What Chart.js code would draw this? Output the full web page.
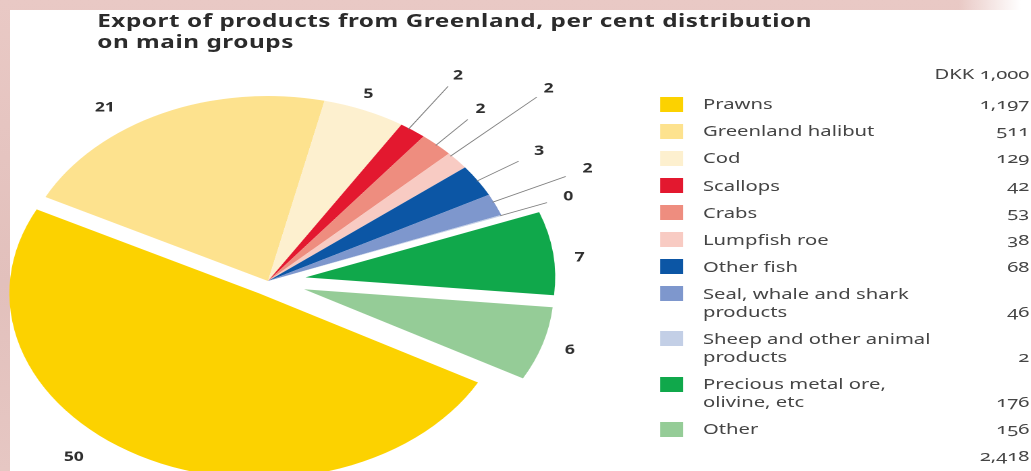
<!DOCTYPE html>
<html lang="en">
<head>
<meta charset="utf-8">
<title>Export of products from Greenland</title>
<script src="https://cdn.jsdelivr.net/npm/chart.js@4.4.1/dist/chart.umd.min.js"></script>
<style>
  html, body { margin: 0; padding: 0; }
  body {
    width: 1031px;
    height: 471px;
    overflow: hidden;
    position: relative;
    background:
      linear-gradient(to right, rgba(255,255,255,0) 93%, #fff 99%),
      linear-gradient(to bottom, #e9c9c5, #e2c0bc 60%, #e6c7c3);
  }
  #panel { position: absolute; left: 10px; top: 10px; right: 0; bottom: 0; background: #fff; }

  /* the figure is laid out narrow and widened as a whole */
  #figure {
    position: absolute; left: 0; top: 0;
    width: 764px; height: 471px;
    transform: scaleX(1.35);
    transform-origin: 0 0;
  }
  #title {
    position: absolute; left: 72px; top: 10px; margin: 0;
    font: bold 18px/21px "Noto Sans", sans-serif;
    letter-spacing: 0.4px;
    color: #2b2b2b;
    white-space: nowrap;
  }
  #pie { position: absolute; left: 0; top: 0; width: 480px; height: 471px; }

  #legend {
    position: absolute; left: 489px; top: 64px; width: 273.5px;
    font: 15px/18px "Noto Sans", sans-serif;
    color: #454545;
    font-feature-settings: "onum" 1;
  }
  #legend .head { text-align: right; margin-bottom: 12.3px; }
  .row { display: flex; margin-bottom: 9.1px; }
  .swatch { width: 17px; height: 15px; margin-top: 2.4px; flex: none; }
  .name { margin-left: 14.7px; flex: 1; white-space: pre-line; }
  .val { align-self: flex-end; text-align: right; }
</style>
</head>
<body>
<div id="panel"></div>
<div id="figure">
  <h1 id="title">Export of products from Greenland, per cent distribution<br>on main groups</h1>
  <div id="pie"><canvas id="pieCanvas"></canvas></div>
  <div id="legend"></div>
</div>

<script>
const categories = [
  "Prawns", "Greenland halibut", "Cod", "Scallops", "Crabs", "Lumpfish roe",
  "Other fish", "Seal, whale and shark\nproducts", "Sheep and other animal\nproducts",
  "Precious metal ore,\nolivine, etc", "Other"
];
const exportsDkk = [1197, 511, 129, 42, 53, 38, 68, 46, 2, 176, 156];
const unitLabel = "DKK 1,000";

const sliceColours = [
  "#fcd200", "#fde28e", "#fdf0cf", "#e3182f", "#ee8d7f", "#f8cbc3",
  "#0c56a5", "#7e97cd", "#c3cfe6", "#10a84b", "#95cc97"
];

// how far each slice is pulled out, and where its share label sits
const explode   = [14, 0, 0, 0, 0, 0, 0, 0, 0, 28, 28];
const labelTurn = [12, -10, -1, -1, 0, -2, 0, -1, 0, 2, 0];
const labelGap  = [29, 26, 16, 64, 48, 98, 54, 77, 53, 19, 21];
const leaderLen = [0, 0, 0, 51, 34, 86, 36, 59, 36, 0, 0];

const total = exportsDkk.reduce((a, b) => a + b, 0);
const shares = exportsDkk.map(v => Math.round(v / total * 100));

// arc that is shifted out whole, without growing its radius
class ExplodedArc extends Chart.ArcElement {
  draw(ctx) {
    const { x, y, startAngle, endAngle, outerRadius, options } = this;
    if (endAngle - startAngle <= 0) return;
    const mid = (startAngle + endAngle) / 2;
    const shift = options.offset || 0;
    ctx.save();
    ctx.translate(Math.cos(mid) * shift, Math.sin(mid) * shift);
    ctx.beginPath();
    ctx.moveTo(x, y);
    ctx.arc(x, y, outerRadius, startAngle, endAngle);
    ctx.closePath();
    ctx.fillStyle = options.backgroundColor;
    ctx.fill();
    ctx.restore();
  }
}
ExplodedArc.id = "explodedArc";
Chart.register(ExplodedArc);
Chart.defaults.datasets.pie.dataElementType = "explodedArc";

const sliceLabels = {
  id: "sliceLabels",
  afterDatasetsDraw(chart) {
    const ctx = chart.ctx;
    const arcs = chart.getDatasetMeta(0).data;
    ctx.save();
    ctx.font = 'bold 13px "Noto Sans", sans-serif';
    ctx.fillStyle = "#2e2e2e";
    ctx.textAlign = "center";
    ctx.textBaseline = "middle";
    ctx.strokeStyle = "#7d7d7d";
    ctx.lineWidth = 0.8;
    arcs.forEach((arc, i) => {
      const mid = (arc.startAngle + arc.endAngle) / 2;
      const cx = arc.x + Math.cos(mid) * explode[i];
      const cy = arc.y + Math.sin(mid) * explode[i];
      const a = mid + labelTurn[i] * Math.PI / 180;
      const r = arc.outerRadius;
      const dx = Math.cos(a), dy = Math.sin(a);
      if (leaderLen[i]) {
        ctx.beginPath();
        ctx.moveTo(cx + dx * (r - 1), cy + dy * (r - 1));
        ctx.lineTo(cx + dx * (r + leaderLen[i]), cy + dy * (r + leaderLen[i]));
        ctx.stroke();
      }
      ctx.fillText(String(shares[i]), cx + dx * (r + labelGap[i]), cy + dy * (r + labelGap[i]));
    });
    ctx.restore();
  }
};

new Chart(document.getElementById("pieCanvas"), {
  type: "pie",
  data: {
    labels: categories,
    datasets: [{
      data: exportsDkk,
      backgroundColor: sliceColours,
      offset: explode,
      borderWidth: 0,
      radius: 185,
      rotation: 118.8,
      clip: false
    }]
  },
  options: {
    responsive: true,
    maintainAspectRatio: false,
    animation: false,
    devicePixelRatio: 2,
    events: [],
    layout: { padding: { top: 91, right: 83 } },
    plugins: {
      legend: { display: false },
      tooltip: { enabled: false }
    }
  },
  plugins: [sliceLabels]
});

// legend table on the right
const legend = document.getElementById("legend");
const fmt = v => v.toLocaleString("en-US");

const head = document.createElement("div");
head.className = "head";
head.textContent = unitLabel;
legend.appendChild(head);

categories.forEach((name, i) => {
  const row = document.createElement("div");
  row.className = "row";
  row.innerHTML = `
    <span class="swatch" style="background:${sliceColours[i]}"></span>
    <span class="name"></span>
    <span class="val">${fmt(exportsDkk[i])}</span>`;
  row.querySelector(".name").textContent = name;
  legend.appendChild(row);
});

const totalRow = document.createElement("div");
totalRow.className = "row";
totalRow.innerHTML = `<span class="name"></span><span class="val">${fmt(total)}</span>`;
legend.appendChild(totalRow);
</script>
</body>
</html>
